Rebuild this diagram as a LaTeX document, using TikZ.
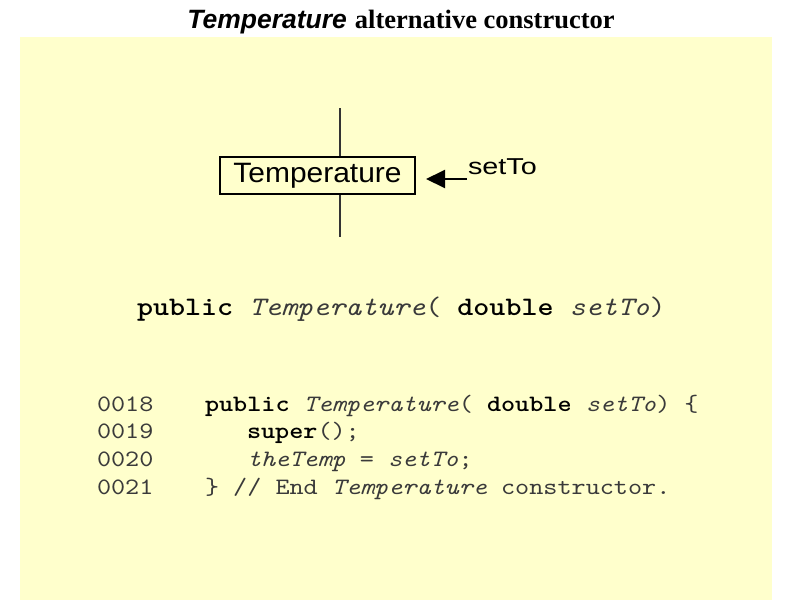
\documentclass[tikz,border=0pt]{standalone}
\usepackage{fontspec}
\usepackage{graphicx}
\usetikzlibrary{arrows.meta}
\newfontfamily\arialfont{Liberation Sans}
\newfontfamily\timesfont{Liberation Serif}
\newfontfamily\courierfont{lmmono10-regular.otf}[
  ItalicFont=lmmono10-italic.otf,
  BoldFont=lmmonolt10-bold.otf,
  BoldItalicFont=lmmonolt10-boldoblique.otf]
\definecolor{panel}{HTML}{FFFFCC}
\definecolor{codegray}{HTML}{3A3A3A}
\definecolor{lifeline}{HTML}{333333}
\newcommand{\kw}[1]{{\bfseries\color{black}#1}}
\newcommand{\ident}[1]{{\itshape #1}}
% typewriter text widened to a Courier-like 0.6em pitch
\newcommand{\wide}[1]{\scalebox{1.143}[1]{#1}}
\begin{document}
\begin{tikzpicture}[x=1pt,y=-1pt,
  txt/.style={inner sep=0pt,outer sep=0pt,anchor=base west},
  titletxt/.style={inner sep=0pt,anchor=base},
  classbox/.style={draw=black,line width=2pt,fill=panel,minimum width=195pt,minimum height=37pt,inner sep=0pt,
    font=\arialfont\fontsize{28}{30}\selectfont},
  bigcode/.style={txt,text=codegray,font=\courierfont\fontsize{26.7}{30}\selectfont},
  code/.style={txt,text=codegray,font=\courierfont\fontsize{23.5}{28}\selectfont},
  argarrow/.style={line width=2pt,-{Triangle[length=19pt,width=18pt]}},
  lifestyle/.style={draw=lifeline,line width=2pt}]
  % canvas and yellow panel
  \useasboundingbox (0,0) rectangle (800,600);
  \fill[white] (0,0) rectangle (800,600);
  \fill[panel] (20,37) rectangle (772,600);

  % heading
  \node[titletxt] (title) at (401,28)
    {\fontsize{26.5}{30}\selectfont{\arialfont\bfseries\itshape Temperature} {\timesfont\bfseries alternative constructor}};

  % lifeline through the class box
  \coordinate (ltop) at (340,108);
  \coordinate (lbot) at (340,237);
  \draw[lifestyle] (ltop) -- (lbot);
  \node[classbox] (cls) at (317.5,175.5) {\scalebox{1.07}[1]{Temperature}};

  % argument arrow
  \coordinate (argtail) at (467,179);
  \coordinate (argtip) at (426,179);
  \draw[argarrow] (argtail) -- (argtip);
  \node[txt,font=\arialfont\fontsize{23}{24}\selectfont] (argname) at (468,174) {\scalebox{1.25}[1]{setTo}};

  % constructor signature
  \node[bigcode] (sig) at (137,315)
    {\wide{\kw{public} \ident{Temperature}( \kw{double} \ident{setTo})}};

  % listing
  \node[code] (n18) at (97,411) {\wide{0018}};
  \node[code] (n19) at (97,438) {\wide{0019}};
  \node[code] (n20) at (97,466) {\wide{0020}};
  \node[code] (n21) at (97,494) {\wide{0021}};
  \node[code] (c18) at (205,411) {\wide{\kw{public} \ident{Temperature}( \kw{double} \ident{setTo}) \{}};
  \node[code] (c19) at (247,438) {\wide{\kw{super}();}};
  \node[code] (c20) at (247,466) {\wide{\ident{theTemp} = \ident{setTo};}};
  \node[code] (c21) at (205,494) {\wide{\} // End \ident{Temperature} constructor.}};
\end{tikzpicture}
\end{document}
